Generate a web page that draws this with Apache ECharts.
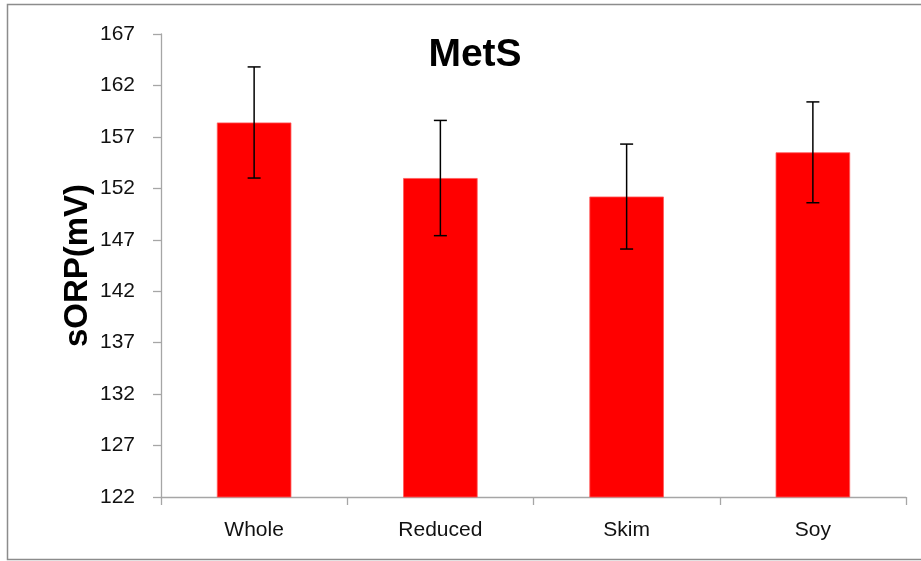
<!DOCTYPE html>
<html>
<head>
<meta charset="utf-8">
<script src="https://cdn.jsdelivr.net/npm/echarts@6/dist/echarts.min.js"></script>
<style>html,body{margin:0;padding:0;background:#fff}#c{width:921px;height:561px}</style>
</head>
<body>
<div id="c"></div>
<script>
var categories = ['Whole', 'Reduced', 'Skim', 'Soy'];
var means = [158.4, 153.0, 151.2, 155.5];
var errors = [5.4, 5.6, 5.1, 4.9];
var yTicks = [122, 127, 132, 137, 142, 147, 152, 157, 162, 167];

var chart = echarts.init(document.getElementById('c'));
var errData = categories.map(function (c, i) { return [i, means[i] - errors[i], means[i] + errors[i]]; });
var font = '"Liberation Sans", Arial, sans-serif';
chart.setOption({
  animation: false,
  backgroundColor: '#fff',
  title: {
    text: 'MetS', left: 470, top: 31, textAlign: 'center',
    textStyle: { fontFamily: font, fontSize: 39, fontWeight: 'bold', color: '#000' }
  },
  graphic: [{
    type: 'rect', shape: { x: 7.5, y: 4.5, width: 930, height: 555 },
    style: { fill: 'none', stroke: '#8c8c8c', lineWidth: 1.5 }, silent: true, z: 100
  }],
  grid: { left: 161, right: 15, top: 34, bottom: 64 },
  xAxis: {
    type: 'category', data: categories,
    axisLine: { lineStyle: { color: '#a6a6a6', width: 1.3 } },
    axisTick: { show: true, length: 8, alignWithLabel: false, lineStyle: { color: '#a6a6a6', width: 1.3 } },
    axisLabel: { margin: 23, fontFamily: font, fontSize: 21, color: '#111' }
  },
  yAxis: {
    type: 'value', min: yTicks[0], max: yTicks[yTicks.length - 1], interval: 5,
    name: 'sORP(mV)', nameLocation: 'middle', nameGap: 67, nameMoveOverlap: false,
    nameTextStyle: { fontFamily: font, fontSize: 33, fontWeight: 'bold', color: '#000' },
    axisLine: { show: true, lineStyle: { color: '#a6a6a6', width: 1.3 } },
    axisTick: { show: true, length: 8, lineStyle: { color: '#a6a6a6', width: 1.3 } },
    splitLine: { show: false },
    axisLabel: { margin: 26, fontFamily: font, fontSize: 21, color: '#111' }
  },
  series: [{
    type: 'bar', data: means, barWidth: '40%',
    itemStyle: { color: '#ff0000', borderColor: '#ff5a5a', borderWidth: 0.8 }
  }, {
    type: 'custom', data: errData, z: 10,
    renderItem: function (params, api) {
      var x = api.value(0);
      var lo = api.coord([x, api.value(1)]);
      var hi = api.coord([x, api.value(2)]);
      var w = 6.5;
      var st = { stroke: '#000', lineWidth: 1.5 };
      return { type: 'group', children: [
        { type: 'line', shape: { x1: hi[0], y1: hi[1], x2: lo[0], y2: lo[1] }, style: st },
        { type: 'line', shape: { x1: hi[0] - w, y1: hi[1], x2: hi[0] + w, y2: hi[1] }, style: st },
        { type: 'line', shape: { x1: lo[0] - w, y1: lo[1], x2: lo[0] + w, y2: lo[1] }, style: st }
      ] };
    }
  }]
});
</script>
</body>
</html>
